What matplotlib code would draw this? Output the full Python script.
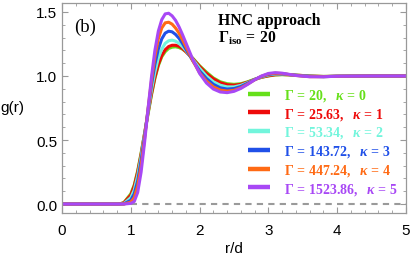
import matplotlib
matplotlib.use("Agg")
import matplotlib.pyplot as plt
from matplotlib.ticker import MultipleLocator

plt.rcParams['mathtext.fontset'] = 'custom'
plt.rcParams['mathtext.rm'] = 'Liberation Serif:bold'
plt.rcParams['mathtext.bf'] = 'Liberation Serif:bold'
plt.rcParams['mathtext.it'] = 'Liberation Serif:italic:bold'

r = [0.0, 0.8, 0.85, 0.9, 1.0, 1.05, 1.1, 1.15, 1.2, 1.25, 1.3, 1.35, 1.4, 1.45, 1.5,
     1.55, 1.6, 1.65, 1.7, 1.75, 1.8, 1.9, 2.0, 2.1, 2.2, 2.3, 2.4, 2.5, 2.6, 2.7,
     2.8, 2.9, 3.0, 3.1, 3.2, 3.4, 3.6, 3.8, 4.0, 4.5, 5.0]

g_k0 = [0.0, 0.0, 0.003, 0.012, 0.08, 0.15, 0.26, 0.40, 0.55, 0.70, 0.85, 0.98, 1.08, 1.15, 1.19,
        1.215, 1.225, 1.228, 1.222, 1.21, 1.19, 1.14, 1.08, 1.03, 0.985, 0.955, 0.94, 0.935, 0.94, 0.955,
        0.975, 0.99, 1.0, 1.008, 1.01, 1.007, 1.0, 0.997, 0.998, 1.0, 1.0]
g_k1 = [0.0, 0.0, 0.002, 0.010, 0.07, 0.14, 0.25, 0.39, 0.55, 0.71, 0.86, 0.99, 1.09, 1.16, 1.205,
        1.23, 1.24, 1.24, 1.232, 1.215, 1.19, 1.135, 1.075, 1.02, 0.978, 0.948, 0.932, 0.928, 0.935, 0.952,
        0.973, 0.99, 1.002, 1.01, 1.012, 1.007, 1.0, 0.996, 0.998, 1.0, 1.0]
g_k2 = [0.0, 0.0, 0.0, 0.004, 0.05, 0.11, 0.22, 0.37, 0.54, 0.72, 0.89, 1.03, 1.14, 1.21, 1.255,
        1.275, 1.28, 1.272, 1.255, 1.23, 1.20, 1.13, 1.06, 1.0, 0.955, 0.928, 0.915, 0.915, 0.927, 0.948,
        0.972, 0.993, 1.008, 1.015, 1.015, 1.006, 0.998, 0.995, 0.998, 1.0, 1.0]
g_k3 = [0.0, 0.0, 0.0, 0.001, 0.03, 0.08, 0.18, 0.34, 0.53, 0.73, 0.93, 1.09, 1.21, 1.29, 1.335,
        1.35, 1.345, 1.325, 1.295, 1.255, 1.21, 1.12, 1.04, 0.98, 0.935, 0.908, 0.898, 0.902, 0.918, 0.944,
        0.972, 0.996, 1.012, 1.019, 1.017, 1.005, 0.997, 0.995, 0.998, 1.0, 1.0]
g_k4 = [0.0, 0.0, 0.0, 0.0, 0.015, 0.05, 0.14, 0.30, 0.51, 0.74, 0.96, 1.15, 1.29, 1.375, 1.415,
        1.42, 1.405, 1.375, 1.335, 1.285, 1.23, 1.12, 1.025, 0.96, 0.915, 0.89, 0.882, 0.888, 0.908, 0.938,
        0.97, 0.998, 1.016, 1.022, 1.019, 1.004, 0.995, 0.995, 0.998, 1.0, 1.0]
g_k5 = [0.0, 0.0, 0.0, 0.0, 0.005, 0.02, 0.09, 0.25, 0.48, 0.74, 0.99, 1.20, 1.35, 1.44, 1.485,
        1.49, 1.47, 1.435, 1.385, 1.325, 1.26, 1.13, 1.02, 0.945, 0.898, 0.875, 0.87, 0.88, 0.903, 0.935,
        0.97, 1.0, 1.02, 1.026, 1.022, 1.004, 0.994, 0.994, 0.998, 1.0, 1.0]

series = [g_k0, g_k1, g_k2, g_k3, g_k4, g_k5]
gammas = ['20', '25.63', '53.34', '143.72', '447.24', '1523.86']
kappas = ['0', '1', '2', '3', '4', '5']
colors = ['#66e01a', '#ee0a0a', '#72f5dc', '#2050e8', '#ff6a14', '#a848f5']

fig = plt.figure(figsize=(4.12, 2.55), dpi=100)
ax = fig.add_axes([62/412, 1-214/255, 344/412, 210.5/255])

ax.axhline(0, color='#9a9a9a', lw=1.5, ls=(0, (3, 2.5)), zorder=1)
for g, gm, k, c in zip(series, gammas, kappas, colors):
    ax.plot(r, g, color=c, lw=2.2, solid_capstyle='butt', zorder=2,
            label=r'$\Gamma\,=\,%s,\ \ \kappa\,=\,%s$' % (gm, k))

ax.set_xlim(0, 5)
ax.set_ylim(-0.07, 1.574)
ax.xaxis.set_major_locator(MultipleLocator(1))
ax.xaxis.set_minor_locator(MultipleLocator(0.2))
ax.yaxis.set_major_locator(MultipleLocator(0.5))
ax.yaxis.set_minor_locator(MultipleLocator(0.1))
ax.tick_params(which='both', direction='in', top=True, right=True, color='#999999',
               labelsize=11, labelfontfamily='Liberation Sans')
ax.tick_params(which='major', length=4.5, width=0.8)
ax.tick_params(which='minor', length=2.5, width=0.6)
ax.tick_params(axis='x', pad=7)
ax.tick_params(axis='y', pad=3.5)
for s in ax.spines.values():
    s.set_color('#999999')
    s.set_linewidth(0.9)

ax.set_xlabel('r/d', fontsize=11, family='Liberation Sans', labelpad=3)
fig.text(24/412, 1-108/255, 'g(r)', fontsize=11, family='Liberation Sans',
         ha='right', va='center')

fig.text(74/412, 1-32/255, '(b)', fontsize=13.5, family='Liberation Serif',
         ha='left', va='baseline')
fig.text(218/412, 1-25/255, 'HNC approach', fontsize=11.3, family='Liberation Serif',
         weight='bold', ha='left', va='baseline')
fig.text(218/412, 1-43/255, r'$\Gamma_{\mathrm{iso}}\,=\,20$', fontsize=11.3,
         ha='left', va='baseline')

leg = ax.legend(loc='upper left', bbox_to_anchor=((248-62)/344, (214-88)/210.5),
                frameon=False, fontsize=10, handlelength=1.6, handletextpad=1.0,
                labelspacing=0.2, borderpad=0, borderaxespad=0, labelcolor='linecolor')
for h in leg.get_lines():
    h.set_linewidth(3.2)

fig.savefig('out.png', dpi=100)
